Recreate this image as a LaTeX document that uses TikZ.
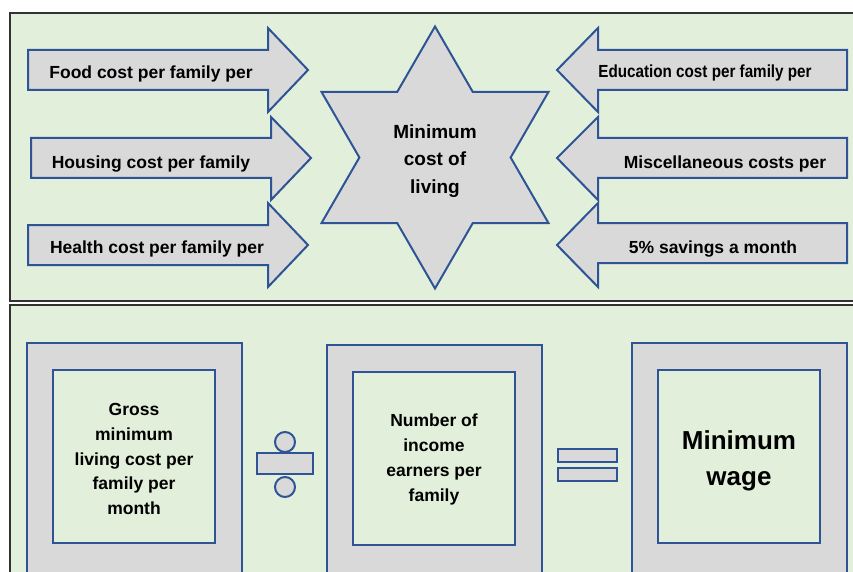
\documentclass[tikz,border=0pt]{standalone}
\usepackage{fontspec}
\setmainfont{Liberation Sans}
\usepackage{tikz}
\usetikzlibrary{shapes.geometric}
\definecolor{panelgreen}{RGB}{226,239,218}
\definecolor{shapegray}{RGB}{217,217,217}
\definecolor{edgeblue}{RGB}{47,84,150}

\begin{document}
\begin{tikzpicture}[x=1pt,y=-1pt,
        panel/.style={draw={rgb,255:red,50;green,50;blue,50},line width=1.4,fill=panelgreen},
        arrowbox/.style={draw=edgeblue,line width=2,fill=shapegray,line join=miter},
        arrowtext/.style={anchor=base,inner sep=0,font=\fontsize{17.5}{21}\selectfont\bfseries},
        starshape/.style={star,star points=6,star point ratio=1.732,minimum size=262,inner sep=0,
            draw=edgeblue,line width=2,fill=shapegray},
        startext/.style={align=center,inner sep=0,font=\fontsize{19}{27.5}\selectfont\bfseries},
        outerbox/.style={draw=edgeblue,line width=2,fill=shapegray},
        innerbox/.style={draw=edgeblue,line width=2,fill=panelgreen,inner sep=0,
            minimum width=162,minimum height=173},
        boxtext/.style={align=center,inner sep=0,font=\fontsize{17.5}{24.7}\selectfont\bfseries},
        symbol/.style={draw=edgeblue,line width=2,fill=shapegray}]
            \useasboundingbox (0,0) rectangle (853,572);
            \clip (0,0) rectangle (853,572);
            
            \draw[panel] (10,13) rectangle (870,301);
            \draw[panel] (10,305) rectangle (870,590);
            
            \draw[arrowbox] (28,50) -- (268,50) -- (268,28) -- (308,70) -- (268,112) -- (268,90) -- (28,90) -- cycle;
            \draw[arrowbox] (31,138) -- (271,138) -- (271,117) -- (311,158) -- (271,200) -- (271,178) -- (31,178) -- cycle;
            \draw[arrowbox] (28,225) -- (268,225) -- (268,203) -- (308,245) -- (268,287) -- (268,265) -- (28,265) -- cycle;
            \draw[arrowbox] (847,50) -- (598,50) -- (598,28) -- (557,70) -- (598,112) -- (598,90) -- (847,90) -- cycle;
            \draw[arrowbox] (847,138) -- (598,138) -- (598,117) -- (557,158) -- (598,200) -- (598,178) -- (847,178) -- cycle;
            \draw[arrowbox] (847,223) -- (598,223) -- (598,203) -- (557,245) -- (598,287) -- (598,263) -- (847,263) -- cycle;
            
            \node[arrowtext] (food) at (151,79) {Food cost per family per};
            \node[arrowtext] (housing) at (151,168) {Housing cost per family};
            \node[arrowtext] (health) at (157,253) {Health cost per family per};
            \node[arrowtext] (education) at (705,78) {\scalebox{0.87}[1]{Education cost per family per}};
            \node[arrowtext] (misc) at (725,168) {Miscellaneous costs per};
            \node[arrowtext] (savings) at (713,253) {5\% savings a month};
            
            \node[starshape] (star) at (435,157.5) {};
            \node[startext] (living) at (435,161) {Minimum\\cost of\\living};
            
            \draw[outerbox] (27,343) rectangle (242,590);
            \draw[outerbox] (327,345) rectangle (542,590);
            \draw[outerbox] (632,343) rectangle (847,590);
            
            \node[innerbox] (grossbox) at (134,456.5) {};
            \node[innerbox] (earnersbox) at (434,458.5) {};
            \node[innerbox] (wagebox) at (739,456.5) {};
            
            \node[boxtext] (gross) at (134,459) {Gross\\minimum\\living cost per\\family per\\month};
            \node[boxtext] (earners) at (434,459.5) {Number of\\income\\earners per\\family};
            \node[boxtext,font=\fontsize{26}{36}\selectfont\bfseries] (wage) at (739,460.5) {Minimum\\wage};
            
            \draw[symbol] (285,442) circle (10);
            \draw[symbol] (257,453) rectangle (313,474);
            \draw[symbol] (285,487) circle (10);
            
            \draw[symbol] (558,449) rectangle (617,462);
            \draw[symbol] (558,468) rectangle (617,481);
        \end{tikzpicture}
\end{document}
